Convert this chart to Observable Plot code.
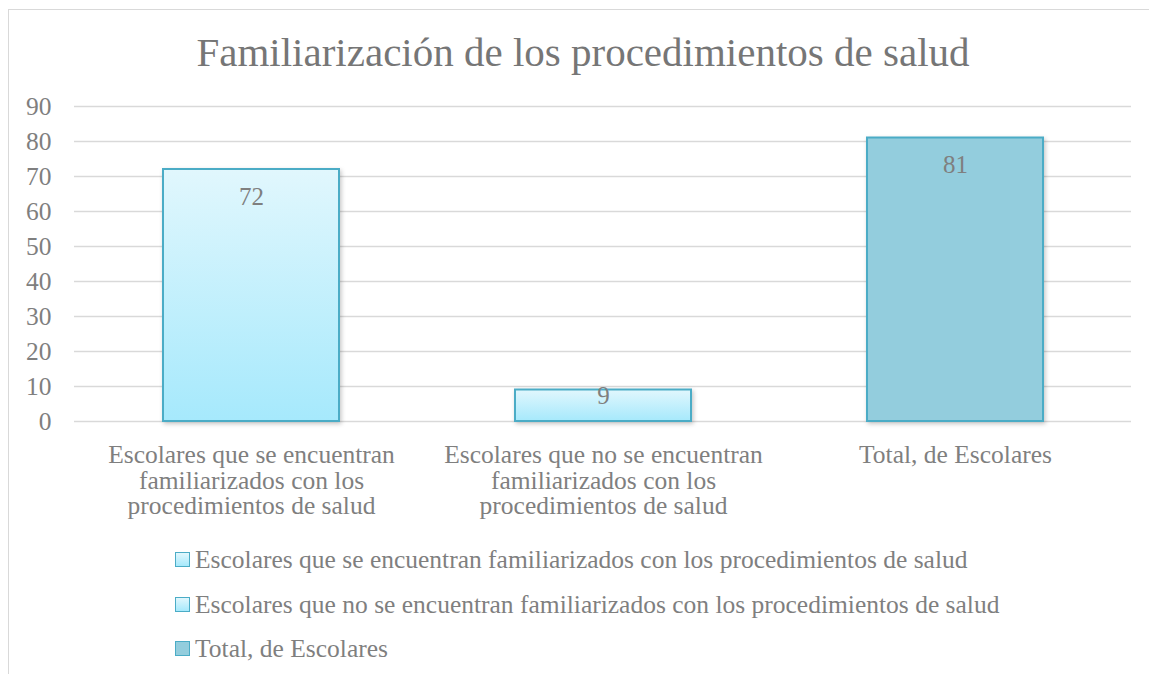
<!DOCTYPE html>
<html>
<head>
<meta charset="utf-8">
<script src="https://cdn.jsdelivr.net/npm/d3@7"></script>
<script src="https://cdn.jsdelivr.net/npm/@observablehq/plot@0.6"></script>
<style>
  html, body { margin: 0; padding: 0; background: #fff; }
  #wrap { position: relative; width: 1149px; height: 674px; overflow: hidden; font-family: "Liberation Serif", serif; }
  #frame { position: absolute; left: 8px; top: 9px; width: 1300px; height: 800px; border-left: 1px solid #d9d9d9; border-top: 1px solid #d9d9d9; }
  #title { position: absolute; left: 8px; width: 1150px; top: 32px; text-align: center; font-size: 41px; line-height: 40px; color: #767676; white-space: nowrap; }
  #chart { position: absolute; left: 0; top: 0; }
  .lg-row { position: absolute; left: 175px; height: 25px; font-size: 25.5px; line-height: 25px; color: #7f7f7f; white-space: nowrap; }
  .lg-sw { position: absolute; left: 0; top: 5px; width: 13px; height: 13px; border: 1.5px solid #4bacc6; }
  .lg-tx { position: absolute; left: 20px; top: 0; }
</style>
</head>
<body>
<div id="wrap">
  <div id="frame"></div>
  <div id="title">Familiarización de los procedimientos de salud</div>
  <div id="chart"></div>
  <div id="legend"></div>
</div>
<script>
// ---- data ----
const categories = [
  "Escolares que se encuentran familiarizados con los procedimientos de salud",
  "Escolares que no se encuentran familiarizados con los procedimientos de salud",
  "Total, de Escolares"
];
const values = [72, 9, 81];
const tickLabels = [
  "Escolares que se encuentran\nfamiliarizados con los\nprocedimientos de salud",
  "Escolares que no se encuentran\nfamiliarizados con los\nprocedimientos de salud",
  "Total, de Escolares"
];
const yTicks = [0, 10, 20, 30, 40, 50, 60, 70, 80, 90];

// ---- styles ----
const seriesFills = ["url(#gradLight)", "url(#gradLight)", "#93cddd"];
const swatchFills = ["linear-gradient(#e1f7fd, #a6e9fc)", "linear-gradient(#e1f7fd, #a6e9fc)", "#93cddd"];

const table = categories.map((c, i) => ({category: c, value: values[i], fill: seriesFills[i], label: tickLabels[i]}));
const labelOf = new Map(table.map(d => [d.category, d.label]));

const svg = Plot.plot({
  width: 1149,
  height: 530,
  marginLeft: 74,
  marginRight: 18,
  marginTop: 106,
  marginBottom: 109,
  style: {fontFamily: "'Liberation Serif', serif", background: "transparent", overflow: "visible"},
  x: {domain: categories, paddingInner: 0.5, paddingOuter: 0.25, label: null},
  y: {domain: [0, 90], label: null},
  marks: [
    Plot.ruleY(yTicks, {stroke: "#d9d9d9", strokeWidth: 1.3}),
    Plot.barY(table, {x: "category", y: "value", fill: "fill", stroke: "#4bacc6", strokeWidth: 2}),
    Plot.text(table.filter(d => d.value >= 20), {x: "category", y: "value", text: d => String(d.value), dy: 27, fill: "#7f7f7f", fontSize: 25}),
    Plot.text(table.filter(d => d.value < 20), {x: "category", y: "value", text: d => String(d.value), dy: 6, fill: "#7f7f7f", fontSize: 25}),
    Plot.axisY({ticks: yTicks, tickSize: 0, tickPadding: 23, fontSize: 25.5, color: "#7f7f7f", fill: "#7f7f7f"}),
    Plot.axisX({tickSize: 0, tickPadding: 24, fontSize: 25.5, lineHeight: 0.99, fill: "#7f7f7f", tickFormat: d => labelOf.get(d)})
  ]
});

// gradient + shadow definitions
const defs = d3.select(svg).insert("defs", ":first-child");
const g = defs.append("linearGradient").attr("id", "gradLight").attr("x1", 0).attr("y1", 0).attr("x2", 0).attr("y2", 1);
g.append("stop").attr("offset", "0%").attr("stop-color", "#e1f7fd");
g.append("stop").attr("offset", "100%").attr("stop-color", "#a6e9fc");
const f = defs.append("filter").attr("id", "shadow").attr("x", "-10%").attr("y", "-10%").attr("width", "130%").attr("height", "130%");
f.append("feDropShadow").attr("dx", 1.5).attr("dy", 2).attr("stdDeviation", 2).attr("flood-color", "#000").attr("flood-opacity", 0.22);
d3.select(svg).selectAll("g[aria-label='bar']").attr("filter", "url(#shadow)");

document.getElementById("chart").appendChild(svg);

// legend
const legend = document.getElementById("legend");
const rowTops = [547, 591.5, 636];
categories.forEach((c, i) => {
  const row = document.createElement("div");
  row.className = "lg-row";
  row.style.top = rowTops[i] + "px";
  const sw = document.createElement("div");
  sw.className = "lg-sw";
  sw.style.background = swatchFills[i];
  const tx = document.createElement("div");
  tx.className = "lg-tx";
  tx.textContent = c;
  row.appendChild(sw);
  row.appendChild(tx);
  legend.appendChild(row);
});
</script>
</body>
</html>
